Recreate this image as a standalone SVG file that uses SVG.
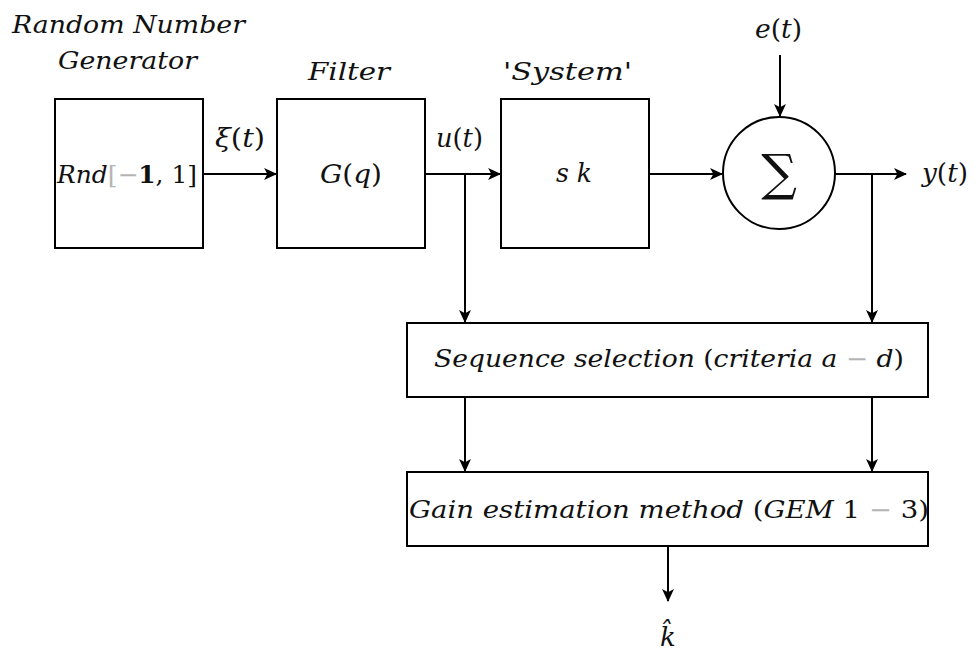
<svg xmlns="http://www.w3.org/2000/svg" width="979" height="653" viewBox="0 0 979 653">
  <style>
    .box { fill: #ffffff; stroke: #000000; stroke-width: 2; }
    .wire { fill: none; stroke: #000000; stroke-width: 2; }
    .t { font-family: "DejaVu Serif", "Liberation Serif", serif; font-style: italic; font-size: 24px; fill: #111111; }
    .s { font-size: 26px; }
    .up { font-style: normal; }
    .gray { fill: #b4b4b4; }
    .mid { text-anchor: middle; }
  </style>
  <defs>
    <marker id="arrow" viewBox="0 0 12 12" refX="11" refY="6" markerWidth="13" markerHeight="13" markerUnits="userSpaceOnUse" orient="auto">
      <path d="M0,0.5 L12,6 L0,11.5 L3,6 Z" fill="#000000"/>
    </marker>
  </defs>

  <rect width="979" height="653" fill="#ffffff"/>

  <!-- connectors -->
  <g id="connectors">
    <line class="wire" x1="203" y1="174" x2="276" y2="174" marker-end="url(#arrow)"/>
    <line class="wire" x1="425" y1="174" x2="500" y2="174" marker-end="url(#arrow)"/>
    <line class="wire" x1="465" y1="174" x2="465" y2="322" marker-end="url(#arrow)"/>
    <line class="wire" x1="649" y1="174" x2="722" y2="174" marker-end="url(#arrow)"/>
    <line class="wire" x1="780" y1="55" x2="780" y2="116" marker-end="url(#arrow)"/>
    <line class="wire" x1="835" y1="174" x2="906" y2="174" marker-end="url(#arrow)"/>
    <line class="wire" x1="872" y1="174" x2="872" y2="322" marker-end="url(#arrow)"/>
    <line class="wire" x1="465" y1="397" x2="465" y2="471" marker-end="url(#arrow)"/>
    <line class="wire" x1="872" y1="397" x2="872" y2="471" marker-end="url(#arrow)"/>
    <line class="wire" x1="668" y1="546" x2="668" y2="601" marker-end="url(#arrow)"/>
  </g>

  <!-- random number generator -->
  <g id="rng">
    <text class="t" x="12" y="33" textLength="233" lengthAdjust="spacingAndGlyphs">Random Number</text>
    <text class="t" x="58" y="69" textLength="139" lengthAdjust="spacingAndGlyphs">Generator</text>
    <rect class="box" x="55" y="99" width="148" height="149"/>
    <text class="t" x="57" y="183" textLength="140" lengthAdjust="spacingAndGlyphs">Rnd<tspan class="up gray">[−</tspan><tspan class="up" font-weight="bold">1</tspan><tspan class="up">, 1]</tspan></text>
  </g>

  <!-- filter -->
  <g id="filter">
    <text class="t" x="308" y="80" textLength="82" lengthAdjust="spacingAndGlyphs">Filter</text>
    <rect class="box" x="277" y="99" width="148" height="149"/>
    <text class="t s" x="320" y="183" textLength="62" lengthAdjust="spacingAndGlyphs">G<tspan class="up">(</tspan>q<tspan class="up">)</tspan></text>
  </g>

  <!-- system -->
  <g id="system">
    <text class="t" x="503" y="80" textLength="129" lengthAdjust="spacingAndGlyphs">'System'</text>
    <rect class="box" x="501" y="99" width="148" height="149"/>
    <text class="t s" x="556" y="182" textLength="36" lengthAdjust="spacingAndGlyphs">s k</text>
  </g>

  <!-- summing junction -->
  <g id="sum">
    <circle class="box" cx="779" cy="173" r="56"/>
    <text x="779" y="190" text-anchor="middle" font-family="'DejaVu Serif', 'Liberation Serif', serif" font-size="50" fill="#111111">∑</text>
  </g>

  <!-- signal labels -->
  <g id="labels">
    <text class="t s" x="215" y="147" textLength="50" lengthAdjust="spacingAndGlyphs">ξ<tspan class="up">(</tspan>t<tspan class="up">)</tspan></text>
    <text class="t s" x="436" y="147" textLength="47" lengthAdjust="spacingAndGlyphs">u<tspan class="up">(</tspan>t<tspan class="up">)</tspan></text>
    <text class="t s" x="755" y="38" textLength="47" lengthAdjust="spacingAndGlyphs">e<tspan class="up">(</tspan>t<tspan class="up">)</tspan></text>
    <text class="t s" x="922" y="182" textLength="46" lengthAdjust="spacingAndGlyphs">y<tspan class="up">(</tspan>t<tspan class="up">)</tspan></text>
  </g>

  <!-- sequence selection -->
  <g id="selection">
    <rect class="box" x="407" y="323" width="521" height="74"/>
    <text class="t" x="434" y="367" textLength="470" lengthAdjust="spacingAndGlyphs">Sequence selection <tspan class="up">(</tspan>criteria a <tspan class="up gray">−</tspan> d<tspan class="up">)</tspan></text>
  </g>

  <!-- gain estimation -->
  <g id="estimation">
    <rect class="box" x="407" y="472" width="521" height="74"/>
    <text class="t" x="409" y="518" textLength="520" lengthAdjust="spacingAndGlyphs">Gain estimation method <tspan class="up">(</tspan>GEM <tspan class="up">1 </tspan><tspan class="up gray">−</tspan><tspan class="up"> 3)</tspan></text>
  </g>

  <!-- estimate output -->
  <g id="estimate">
    <text class="t s mid" x="668" y="646">k̂</text>
  </g>
</svg>
